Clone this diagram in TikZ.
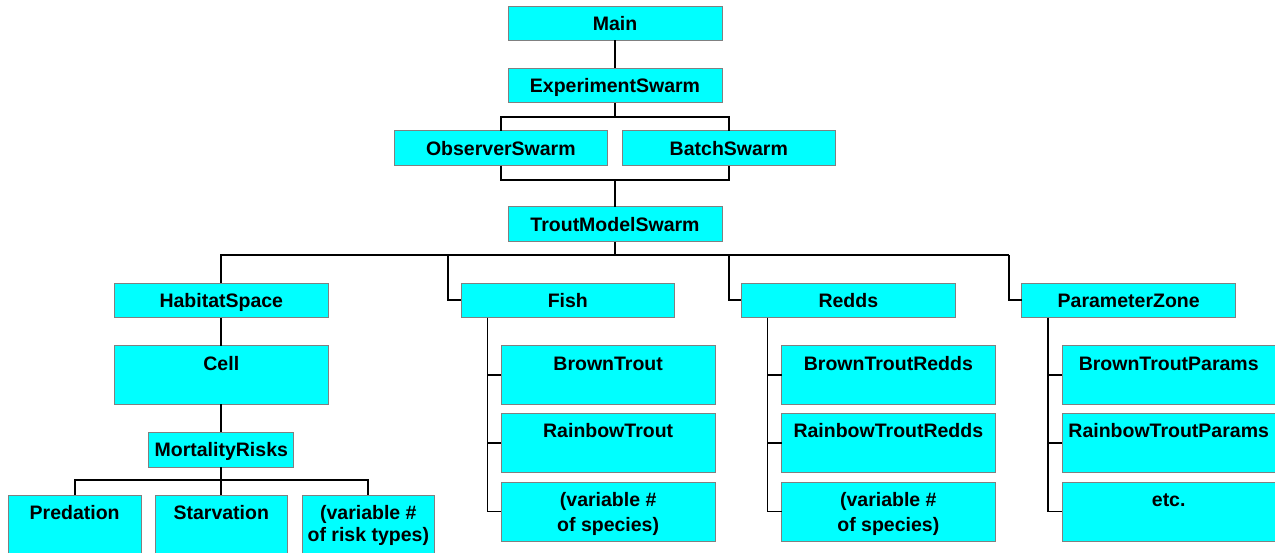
\documentclass[tikz,border=0pt]{standalone}
\usepackage{fontspec}
\setmainfont{Liberation Sans}
\definecolor{bordergray}{RGB}{128,128,128}
\definecolor{boxcyan}{RGB}{0,255,255}
\newcommand\drawbox[5]{\node[boxst, minimum width={#4-#2}, minimum height={#5-#3}, anchor=north west] (#1) at (#2,#3) {};}
\newcommand\boxlabel[2]{\node[txt, anchor=base] (#1-t) at ([yshift=-24.3pt]#1.north) {#2};}
\begin{document}
\begin{tikzpicture}[x=1pt,y=-1pt,
  boxst/.style={rectangle, draw=bordergray, fill=boxcyan, line width=1pt, inner sep=0pt, outer sep=0pt},
  txt/.style={font=\fontsize{19.5}{25}\selectfont\bfseries, inner sep=0pt, align=center},
  conn/.style={line width=1.8pt, black}]
\clip (0,0) rectangle (1275,552);
\fill[white] (0,0) rectangle (1275,552);
% boxes
\drawbox{main}{508}{6}{722}{40.3}
\drawbox{exp}{508}{68.3}{722}{102.7}
\drawbox{obs}{394}{130.7}{607.7}{165.7}
\drawbox{batch}{622.3}{130.7}{835.3}{165.7}
\drawbox{tms}{508}{206.7}{722}{241.7}
\drawbox{hab}{114.3}{283}{328.3}{317.7}
\drawbox{cell}{114.3}{345.7}{328.3}{404}
\drawbox{mr}{148.8}{432}{293.8}{467}
\drawbox{pred}{8.3}{495}{141}{570}
\drawbox{starv}{155.3}{495}{287.3}{570}
\drawbox{rvar}{302}{495}{434.7}{570}
\drawbox{fish}{461}{283}{674.7}{317.7}
\drawbox{bt}{501}{345.7}{715.3}{404}
\drawbox{rt}{501}{413.3}{715.3}{472}
\drawbox{fv}{501}{482}{715.3}{541}
\drawbox{redds}{741}{283}{955.7}{317.7}
\drawbox{btr}{781.7}{345.7}{995}{404}
\drawbox{rtr}{781.7}{413.3}{995}{472}
\drawbox{rv}{781.7}{482}{995}{541}
\drawbox{pz}{1021.7}{283}{1235.7}{317.7}
\drawbox{btp}{1062.3}{345.7}{1290}{404}
\drawbox{rtp}{1062.3}{413.3}{1290}{472}
\drawbox{etc}{1062.3}{482}{1290}{541}
% labels
\boxlabel{main}{Main}
\boxlabel{exp}{ExperimentSwarm}
\boxlabel{obs}{ObserverSwarm}
\boxlabel{batch}{BatchSwarm}
\boxlabel{tms}{TroutModelSwarm}
\boxlabel{hab}{HabitatSpace}
\boxlabel{cell}{Cell}
\boxlabel{mr}{MortalityRisks}
\boxlabel{pred}{Predation}
\boxlabel{starv}{Starvation}
\node[txt, font=\fontsize{19.5}{22.5}\selectfont\bfseries] (rvar-t) at ([yshift=-30.7pt]rvar.north) {(variable \#\\of risk types)};
\boxlabel{fish}{Fish}
\boxlabel{bt}{BrownTrout}
\boxlabel{rt}{RainbowTrout}
\node[txt] (fv-t) at ([yshift=-32.3pt]fv.north) {(variable \#\\of species)};
\boxlabel{redds}{Redds}
\boxlabel{btr}{BrownTroutRedds}
\boxlabel{rtr}{RainbowTroutRedds}
\node[txt] (rv-t) at ([yshift=-32.3pt]rv.north) {(variable \#\\of species)};
\boxlabel{pz}{ParameterZone}
\node[txt, anchor=base] (btp-t) at ([yshift=-24.3pt]1168.7,345.7) {BrownTroutParams};
\node[txt, anchor=base] (rtp-t) at ([yshift=-24.3pt]1168.7,413.3) {RainbowTroutParams};
\node[txt, anchor=base] (etc-t) at ([yshift=-24.3pt]1168.7,482) {etc.};
% junctions
\coordinate (j1) at (615,116.7);
\coordinate (j2) at (615,180);
\coordinate (j3) at (615,255);
\coordinate (j4) at (221.3,480);
\coordinate (fk) at (448.3,255);
\coordinate (rk) at (728.7,255);
\coordinate (pk) at (1009.3,255);
\coordinate (fsp) at ([xshift=26.5pt]fish.south west);
\coordinate (rsp) at ([xshift=26.5pt]redds.south west);
\coordinate (psp) at ([xshift=26.5pt]pz.south west);
% connectors
\draw[conn] (main.south) -- (exp.north);
\draw[conn] (exp.south) -- (j1);
\draw[conn] (obs.north) |- (j1) -| (batch.north);
\draw[conn] (obs.south) |- (j2) -| (batch.south);
\draw[conn] (j2) -- (tms.north);
\draw[conn] (tms.south) -- (j3);
\draw[conn] (hab.north) |- (j3) -- (pk);
\draw[conn] (fk) |- (fish.west);
\draw[conn] (rk) |- (redds.west);
\draw[conn] (pk) |- (pz.west);
\draw[conn] (hab.south) -- (cell.north);
\draw[conn] (cell.south) -- (mr.north);
\draw[conn] (mr.south) -- (j4);
\draw[conn] (pred.north) |- (j4) -| (rvar.north);
\draw[conn] (j4) -- (starv.north -| j4);
\draw[conn] (fsp) |- (fv.west);
\draw[conn] (fsp |- bt.west) -- (bt.west);
\draw[conn] (fsp |- rt.west) -- (rt.west);
\draw[conn] (rsp) |- (rv.west);
\draw[conn] (rsp |- btr.west) -- (btr.west);
\draw[conn] (rsp |- rtr.west) -- (rtr.west);
\draw[conn] (psp) |- (etc.west);
\draw[conn] (psp |- btp.west) -- (btp.west);
\draw[conn] (psp |- rtp.west) -- (rtp.west);
\end{tikzpicture}
\end{document}
